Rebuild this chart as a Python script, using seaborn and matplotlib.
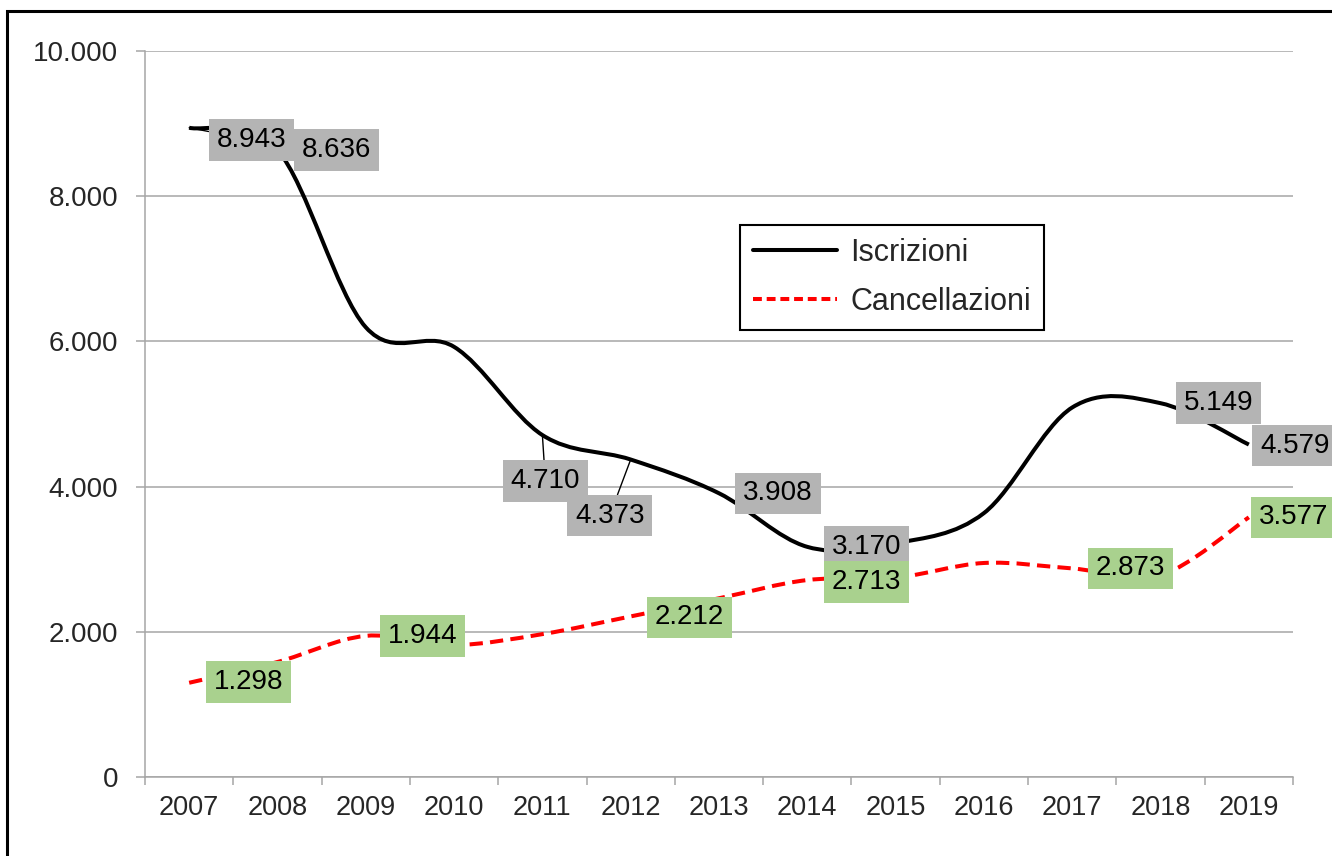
import matplotlib
matplotlib.use("Agg")
import matplotlib.pyplot as plt
from matplotlib.path import Path
from matplotlib.patches import PathPatch, Rectangle
from matplotlib.lines import Line2D
from matplotlib.ticker import FuncFormatter
import numpy as np
import seaborn as sns


anni = [2007, 2008, 2009, 2010, 2011, 2012, 2013, 2014, 2015, 2016, 2017, 2018, 2019]
iscrizioni = [8943, 8636, 6195, 5925, 4710, 4373, 3908, 3170, 3220, 3635, 5090, 5149, 4579]
cancellazioni = [1298, 1584, 1944, 1818, 1968, 2212, 2462, 2713, 2745, 2948, 2873, 2780, 3577]
anni_etich_iscr = [2007, 2008, 2011, 2012, 2013, 2014, 2018, 2019]
anni_etich_canc = [2007, 2009, 2012, 2014, 2017, 2019]

# spostamento delle etichette in pixel (dx a destra, dy in basso) e linee guida
pos_iscr = {2007: (62, 12, True), 2008: (59, 0, False), 2011: (3, 46, True),
            2012: (-21, 56, True), 2013: (59, 0, False), 2014: (59, 0, False),
            2018: (58, 0, False), 2019: (46, 1, False)}
pos_canc = {2007: (59, -1, False), 2009: (57, 0, False), 2012: (59, 1, False),
            2014: (59, 2, False), 2017: (58, 0, False), 2019: (45, 0, False)}

grigio = '#a6a6a6'
box_grigio = '#b4b4b4'
box_verde = '#a9d18e'
rosso = '#ff0000'


def curva_liscia(xs, ys):
    # curva di Bezier tipo Excel che passa per i punti
    p = np.column_stack([xs, ys]).astype(float)
    ext = np.vstack([p[0], p, p[-1]])
    verts = [p[0]]
    codes = [Path.MOVETO]
    for i in range(len(p) - 1):
        p0, p1, p2, p3 = ext[i], ext[i + 1], ext[i + 2], ext[i + 3]
        verts += [p1 + (p2 - p0) / 6, p2 - (p3 - p1) / 6, p2]
        codes += [Path.CURVE4] * 3
    return Path(verts, codes)


def formato(v):
    return f"{int(v):,}".replace(",", ".")


def etichette(ax, valori, anni_et, pos, colore):
    for a in anni_et:
        i = anni.index(a)
        dx, dy, guida = pos[a]
        ax.annotate(formato(valori[i]), xy=(i, valori[i]),
                    xytext=(dx * 0.72, -dy * 0.72), textcoords='offset points',
                    ha='center', va='center', fontsize=20, color='black',
                    bbox=dict(boxstyle='square,pad=0.28', fc=colore, ec='none'),
                    arrowprops=dict(arrowstyle='-', color='black', lw=1,
                                    shrinkA=0, shrinkB=0) if guida else None,
                    annotation_clip=False, zorder=6)


sns.set_theme(style="white")
plt.rcParams['font.family'] = ['Liberation Sans', 'DejaVu Sans']

f = plt.figure(figsize=(13.32, 8.56), dpi=100)
ax = f.add_axes([145 / 1332, 79 / 856, 1148 / 1332, 726 / 856])

x = np.arange(len(anni))
ax.add_patch(PathPatch(curva_liscia(x, iscrizioni), fill=False, edgecolor='black',
                       lw=2.9, capstyle='butt', joinstyle='round', zorder=4))
ax.add_patch(PathPatch(curva_liscia(x, cancellazioni), fill=False, edgecolor=rosso,
                       lw=2.9, linestyle=(0, (3.3, 1.8)), capstyle='butt', zorder=4))

ax.set_xlim(-0.5, len(anni) - 0.5)
ax.set_ylim(0, 10000)
ax.set_xticks(x)
ax.set_xticklabels(anni)
ax.set_xticks(np.arange(-0.5, len(anni), 1), minor=True)
ax.set_yticks(range(0, 10001, 2000))
ax.yaxis.set_major_formatter(FuncFormatter(lambda v, _: formato(v)))
ax.tick_params(axis='x', which='major', bottom=True, length=0, pad=13, labelsize=19.5)
ax.tick_params(axis='x', which='minor', bottom=True, length=5.8, width=1.1,
               color=grigio, direction='out')
ax.tick_params(axis='y', left=True, length=6.5, width=1.1, color=grigio,
               direction='out', pad=13, labelsize=20)
ax.grid(axis='y', color=grigio, lw=1.1)
ax.set_axisbelow(True)
sns.despine(ax=ax)
for s in ['left', 'bottom']:
    ax.spines[s].set_color(grigio)
    ax.spines[s].set_linewidth(1.1)

etichette(ax, iscrizioni, anni_etich_iscr, pos_iscr, box_grigio)
etichette(ax, cancellazioni, anni_etich_canc, pos_canc, box_verde)

maniglie = [Line2D([], [], color='black', lw=2.9, label='Iscrizioni'),
            Line2D([], [], color=rosso, lw=2.9, linestyle=(0, (2.2, 1.2)), label='Cancellazioni')]
leg = ax.legend(handles=maniglie, loc='upper left',
                bbox_to_anchor=((740 - 145) / 1148, (777 - 225) / 726),
                borderaxespad=0, fontsize=22, handlelength=2.75, handletextpad=0.45,
                labelspacing=0.62, borderpad=0.42, fancybox=False, framealpha=1)
leg.get_frame().set_edgecolor('black')
leg.get_frame().set_linewidth(1.5)
leg.set_zorder(7)

f.add_artist(Rectangle((7 / 1332, -0.05), 1.1, (845 / 856) + 0.05,
                       transform=f.transFigure, fill=False, edgecolor='black', lw=2.2))

f.savefig("out.png", dpi=100)
